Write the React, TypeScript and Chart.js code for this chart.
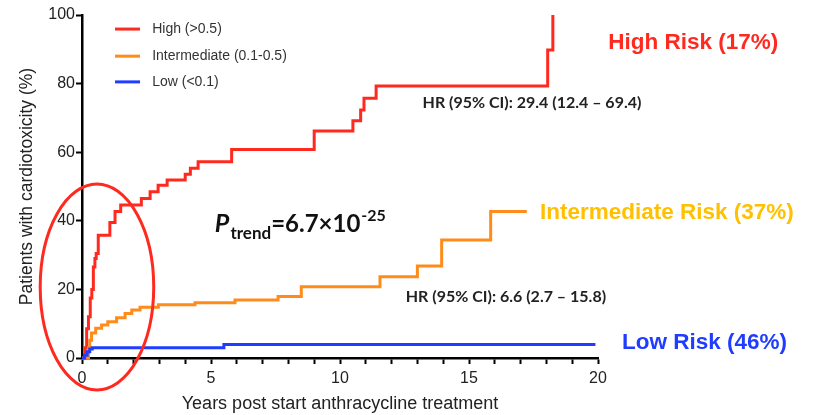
import React, { useEffect, useRef } from 'react';
import { Chart, registerables } from 'chart.js';

Chart.register(...registerables);

// ---- Data ----
const seriesLabels = ['High (>0.5)', 'Intermediate (0.1-0.5)', 'Low (<0.1)'];
const seriesColors = ['#ff2a1f', '#ff8c1a', '#1f3dff'];
const riskLabels = ['High Risk (17%)', 'Intermediate Risk (37%)', 'Low Risk (46%)'];
const riskTextColors = ['#ff2a1f', '#ffc000', '#1f3dff'];
const hrLabels = ['HR (95% CI): 29.4 (12.4 \u2013 69.4)', 'HR (95% CI): 6.6 (2.7 \u2013 15.8)'];

const highYears = [0, 0.12, 0.18, 0.25, 0.32, 0.38, 0.44, 0.5, 0.55, 0.63, 1.08, 1.28, 1.5, 2.3, 2.64, 2.95, 3.3, 4.0, 4.2, 4.5, 5.8, 9.0, 10.5, 10.8, 10.93, 11.4, 18.05, 18.25];
const highPct = [0, 3, 8.5, 12, 17.5, 20, 26.5, 29, 30.5, 35.8, 39.5, 42.7, 44.6, 46.5, 48.5, 50.4, 51.9, 53.6, 55.3, 57.2, 60.8, 66.2, 69.2, 72.3, 75.7, 79.3, 89.8, 100];

const interYears = [0, 0.22, 0.25, 0.3, 0.37, 0.53, 0.76, 1.0, 1.34, 1.67, 1.93, 2.25, 2.96, 4.38, 5.93, 7.6, 8.5, 11.55, 13.0, 13.94, 15.84, 17.24];
const interPct = [0, 0, 3, 5.2, 7.3, 8.7, 9.6, 10.6, 11.7, 13, 14, 14.8, 15.5, 16.1, 16.9, 17.9, 20.8, 23.7, 26.8, 34.4, 42.7, 42.7];

const lowYears = [0, 0.1, 0.2, 0.3, 0.4, 5.5, 19.9];
const lowPct = [0, 0.8, 1.8, 2.6, 3.0, 3.9, 3.9];

const xTickStep = 1;
const xLabelEvery = 5;
const yTickStep = 20;

const ARIAL = '"Liberation Sans", Arial, sans-serif';
const CAL = 'Lato, "Open Sans", sans-serif';

const toPts = (xs: number[], ys: number[]) => xs.map((x, i) => ({ x, y: ys[i] }));

const annotPlugin = {
  id: 'annot',
  afterDraw(chart: any) {
    const { ctx } = chart;
    const xs = chart.scales.x;
    const ys = chart.scales.y;
    const px = (v: number) => xs.getPixelForValue(v);
    const py = (v: number) => ys.getPixelForValue(v);
    ctx.save();

    // Legend
    const legY = [95.9, 88.0, 80.5];
    ctx.font = `14px ${ARIAL}`;
    ctx.textBaseline = 'middle';
    ctx.textAlign = 'left';
    seriesLabels.forEach((lab, i) => {
      ctx.strokeStyle = seriesColors[i];
      ctx.lineWidth = 3;
      ctx.beginPath();
      ctx.moveTo(px(1.28), py(legY[i]));
      ctx.lineTo(px(2.25), py(legY[i]));
      ctx.stroke();
      ctx.fillStyle = '#333';
      ctx.fillText(lab, px(2.72), py(legY[i]));
    });

    // Risk labels
    ctx.font = `bold 22.5px ${ARIAL}`;
    const riskPos = [[20.4, 91.8], [17.75, 42.3], [20.93, 4.4]];
    riskLabels.forEach((lab, i) => {
      ctx.fillStyle = riskTextColors[i];
      ctx.fillText(lab, px(riskPos[i][0]), py(riskPos[i][1]));
    });

    // HR labels
    ctx.font = `bold 16px ${CAL}`;
    ctx.fillStyle = '#222';
    const hrPos = [[13.2, 74.3], [12.55, 17.8]];
    hrLabels.forEach((lab, i) => {
      ctx.fillText(lab, px(hrPos[i][0]), py(hrPos[i][1]));
    });

    // P trend
    ctx.textBaseline = 'alphabetic';
    let cx = px(5.15);
    const base = py(36.7);
    ctx.fillStyle = '#111';
    ctx.font = `italic bold 25px ${CAL}`;
    ctx.fillText('P', cx, base);
    cx += ctx.measureText('P').width + 1;
    ctx.font = `bold 17px ${CAL}`;
    ctx.fillText('trend', cx, base + 7);
    cx += ctx.measureText('trend').width;
    ctx.font = `bold 24px ${CAL}`;
    ctx.fillText('=6.7\u00d710', cx, base);
    cx += ctx.measureText('=6.7\u00d710').width + 1;
    ctx.font = `bold 16px ${CAL}`;
    ctx.fillText('-25', cx, base - 11);

    // Ellipse highlight
    const ecx = px(0.58);
    const ecy = py(20.7);
    const rx = px(0.58 + 2.2) - ecx;
    const ry = ecy - py(20.7 + 30);
    ctx.strokeStyle = '#ff2a1f';
    ctx.lineWidth = 3;
    ctx.beginPath();
    ctx.ellipse(ecx, ecy, rx, ry, 0, 0, Math.PI * 2);
    ctx.stroke();

    ctx.restore();
  },
};

export default function App() {
  const ref = useRef<HTMLCanvasElement | null>(null);
  useEffect(() => {
    if (!ref.current) return;
    const mk = (i: number, xs: number[], ys: number[]) => ({
      label: seriesLabels[i],
      data: toPts(xs, ys),
      borderColor: seriesColors[i],
      backgroundColor: seriesColors[i],
      borderWidth: 3,
      pointRadius: 0,
      stepped: 'before' as const,
      fill: false,
      clip: 6,
    });
    const chart = new Chart(ref.current, {
      type: 'line',
      data: {
        datasets: [mk(2, lowYears, lowPct), mk(1, interYears, interPct), mk(0, highYears, highPct)],
      },
      options: {
        animation: false,
        responsive: false,
        layout: { padding: { top: 15, right: 217, left: 0, bottom: 0 } },
        plugins: { legend: { display: false }, tooltip: { enabled: false } },
        scales: {
          x: {
            type: 'linear',
            min: 0,
            max: 20,
            afterFit: (s: any) => { s.height = 57; },
            border: { display: true, color: '#000', width: 2.5 },
            grid: { drawOnChartArea: false, drawTicks: true, tickLength: 6, tickWidth: 2, color: '#000' },
            ticks: {
              stepSize: xTickStep,
              autoSkip: false,
              maxRotation: 0,
              padding: 5,
              color: '#222',
              font: { family: ARIAL, size: 16 },
              callback: (v: any) => (Number(v) % xLabelEvery === 0 ? String(v) : ''),
            },
            title: {
              display: true,
              text: 'Years post start anthracycline treatment',
              color: '#222',
              font: { family: ARIAL, size: 18 },
              padding: { top: 0, bottom: 0 },
            },
          },
          y: {
            min: 0,
            max: 100,
            afterFit: (s: any) => { s.width = 82; },
            border: { display: true, color: '#000', width: 2.5 },
            grid: { drawOnChartArea: false, drawTicks: true, tickLength: 6, tickWidth: 2, color: '#000' },
            ticks: {
              stepSize: yTickStep,
              padding: 1,
              color: '#222',
              font: { family: ARIAL, size: 16 },
            },
            title: {
              display: true,
              text: 'Patients with cardiotoxicity (%)',
              color: '#222',
              font: { family: ARIAL, size: 17.5 },
              padding: { top: 17, bottom: 0 },
            },
          },
        },
      },
      plugins: [annotPlugin],
    });
    return () => chart.destroy();
  }, []);
  return (
    <div style={{ position: 'absolute', left: 0, top: 0, width: 815, height: 415, background: '#fff' }}>
      <canvas ref={ref} width={815} height={415} style={{ display: 'block' }} />
    </div>
  );
}
